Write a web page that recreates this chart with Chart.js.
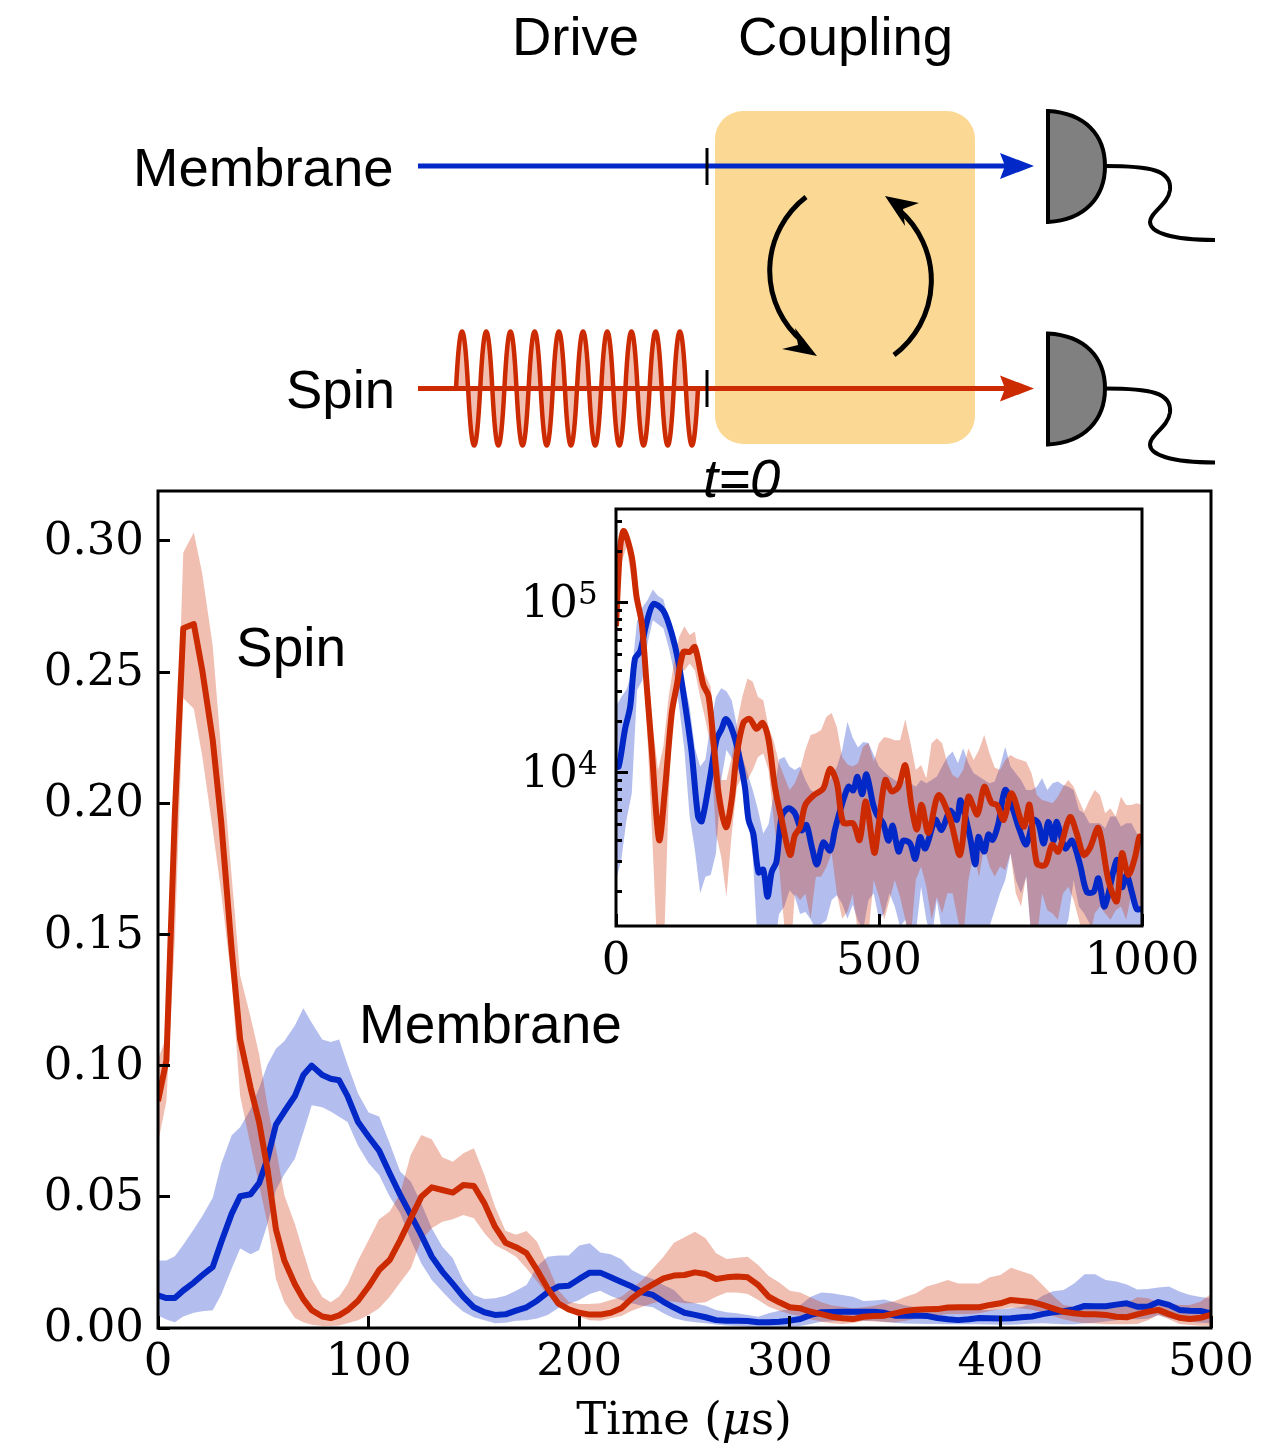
<!DOCTYPE html>
<html lang="en">
<head>
<meta charset="UTF-8">
<title>Spin and membrane ringdown</title>
<script src="https://cdn.jsdelivr.net/npm/chart.js"></script>
<style>
    html, body { margin: 0; padding: 0; background: #fff; }
    #wrap { position: relative; width: 1261px; height: 1453px; overflow: hidden; }
    #wrap canvas, #wrap svg { position: absolute; left: 0; top: 0; }
    svg text.sans { font-family: "Liberation Sans", sans-serif; font-size: 54.5px; fill: #000; }
    svg text.label { font-size: 55px; }
    svg text.serif { font-family: "DejaVu Serif", serif; font-size: 45px; fill: #000; }
</style>
</head>
<body>
<div id="wrap">
    <canvas id="mainChart" width="1261" height="1453"></canvas>
    <canvas id="insetChart" width="1261" height="1453"></canvas>

    <!-- Pulse sequence sketch and text labels -->
    <svg width="1261" height="1453" viewBox="0 0 1261 1453">
        <rect x="715" y="111" width="260" height="333" rx="28" ry="28" fill="#fbd995"/>

        <path d="M456 388.5 q6.05 -114 12.1 0 t12.1 0 t12.1 0 t12.1 0 t12.1 0 t12.1 0 t12.1 0 t12.1 0 t12.1 0 t12.1 0 t12.1 0 t12.1 0 t12.1 0 t12.1 0 t12.1 0 t12.1 0 t12.1 0 t12.1 0 t12.1 0 t12.1 0"
              fill="#f0bfb2" stroke="#cc2a00" stroke-width="4.5"/>

        <line x1="418" y1="166" x2="1006" y2="166" stroke="#0228c8" stroke-width="5"/>
        <path d="M1034 166 L1000 153 L1005 166 L1000 179 Z" fill="#0228c8"/>
        <line x1="418" y1="388.5" x2="1006" y2="388.5" stroke="#cc2a00" stroke-width="5"/>
        <path d="M1034 388.5 L1000 375.5 L1005 388.5 L1000 401.5 Z" fill="#cc2a00"/>

        <line x1="707" y1="148" x2="707" y2="185" stroke="#000" stroke-width="3"/>
        <line x1="707" y1="370" x2="707" y2="407" stroke="#000" stroke-width="3"/>

        <!-- coupling arrows -->
        <path d="M806 197 A93 93 0 0 0 803 342" fill="none" stroke="#000" stroke-width="5"/>
        <path d="M817 356 L795 328 L798 345 L782 349 Z" fill="#000"/>
        <path d="M894 355 A93 93 0 0 0 899 210" fill="none" stroke="#000" stroke-width="5"/>
        <path d="M885 196 L919 203 L903 209 L905 226 Z" fill="#000"/>

        <!-- detectors -->
        <g>
            <path d="M1105 166 C1150 166 1172 170 1170 190 C1168 205 1150 212 1150 222 C1150 232 1170 240 1215 240" fill="none" stroke="#000" stroke-width="4"/>
            <path d="M1048 111 C1085 113 1105 135 1105 166 C1105 197 1085 220 1048 222 Z" fill="#808080" stroke="#000" stroke-width="4"/>
        </g>
        <g transform="translate(0 222.5)">
            <path d="M1105 166 C1150 166 1172 170 1170 190 C1168 205 1150 212 1150 222 C1150 232 1170 240 1215 240" fill="none" stroke="#000" stroke-width="4"/>
            <path d="M1048 111 C1085 113 1105 135 1105 166 C1105 197 1085 220 1048 222 Z" fill="#808080" stroke="#000" stroke-width="4"/>
        </g>

        <text class="sans" x="512" y="55">Drive</text>
        <text class="sans" x="738" y="55">Coupling</text>
        <text class="sans" x="133" y="186">Membrane</text>
        <text class="sans" x="286" y="408">Spin</text>
        <text class="sans" x="703" y="497" font-style="italic">t=0</text>

        <text class="sans label" x="236" y="666">Spin</text>
        <text class="sans label" x="359" y="1043">Membrane</text>
        <text class="serif" x="684" y="1434" text-anchor="middle">Time (<tspan font-style="italic">μ</tspan>s)</text>
    </svg>
</div>

<script>
// main panel, time in microseconds
var mainTimes = [0,4,8,12,17,21,26,30,35,39,44,48,52,56,60,65,69,73,78,82,86,90,95,
    100,105,110,115,120,125,130,135,140,145,150,155,160,165,170,175,180,185,190,195,200,
    205,210,215,220,225,230,235,240,245,250,255,260,265,270,275,280,285,290,295,300,
    305,310,315,320,325,330,335,340,345,350,355,360,365,370,375,380,385,390,395,400,
    405,410,415,420,425,430,435,440,445,450,455,460,465,470,475,480,485,490,495,500];

var spinMean = [.0865,.102,.196,.2667,.2683,.2508,.224,.193,.144,.11,.0914,.0785,.0605,.0376,.0257,.0167,.011,.0068,.0044,.0038,.0048,.0068,.0104,
    .0158,.0221,.0259,.0335,.0418,.05,.0536,.0526,.0516,.0545,.0541,.0475,.0386,.0325,.0308,.0285,.0221,.0151,.0094,.0071,.0058,
    .0051,.0051,.0058,.0075,.0113,.0142,.0166,.0189,.02,.0202,.0212,.0206,.0187,.0193,.0196,.0193,.0164,.0119,.0098,.0079,
    .0075,.0062,.0053,.0043,.0037,.0034,.0043,.0046,.0047,.0056,.0065,.007,.0071,.0072,.0078,.0079,.0079,.0079,.0088,.0094,
    .0107,.0103,.0099,.0088,.0075,.0062,.0056,.0052,.0052,.005,.0043,.0041,.0052,.0062,.0069,.0053,.0039,.0034,.0039,.005];
var spinUpper = [.1024,.111,.196,.2956,.3032,.2876,.2598,.22,.172,.1343,.1183,.1044,.0845,.0685,.0506,.0396,.029,.0187,.0118,.0098,.012,.0167,.0257,
    .0335,.0414,.0444,.0513,.066,.0736,.0719,.0651,.0634,.0666,.0685,.0583,.0463,.0371,.0355,.037,.0329,.024,.0145,.01,.0091,
    .0091,.0094,.0107,.0119,.0151,.0183,.0227,.0272,.0325,.0346,.0367,.0342,.0285,.0263,.0268,.0272,.024,.0198,.0173,.0142,
    .0135,.0116,.0098,.0086,.0081,.0075,.0079,.0085,.0094,.0103,.0119,.0132,.0158,.017,.0183,.017,.017,.017,.0193,.0202,
    .023,.0216,.0203,.0164,.0123,.0088,.0081,.0081,.0084,.0084,.0081,.0094,.0117,.0113,.0098,.0092,.0088,.0088,.01,.013];
var spinLower = [.0705,.0865,.148,.24,.236,.218,.19,.166,.132,.0884,.0695,.0546,.0396,.0187,.0098,.0038,.0022,.0012,.0008,.0008,.001,.0018,.003,
    .005,.0075,.0119,.0173,.0227,.0335,.038,.0405,.0414,.0431,.0418,.0361,.0316,.0295,.0272,.0227,.0177,.0126,.0091,.0062,.0043,
    .003,.0028,.0037,.0046,.0066,.0081,.0094,.0104,.01,.0094,.0094,.0098,.0119,.0135,.0135,.013,.0107,.0081,.0066,.0053,
    .0046,.0033,.0024,.0018,.0015,.0019,.0027,.0025,.0022,.0022,.0028,.0036,.0039,.0048,.0053,.0053,.0053,.0056,.0065,.0071,
    .0078,.0074,.007,.006,.0046,.0033,.0024,.0018,.0017,.0014,.0014,.0014,.0015,.003,.005,.0033,.0015,.0011,.0009,.0008];

var membraneMean = [.0124,.0114,.0114,.0143,.0173,.0201,.0233,.0327,.0436,.0502,.051,.0552,.0645,.0775,.0825,.0884,.0964,.1,.0964,.095,.0944,.0884,.0785,
    .0729,.0676,.059,.0507,.0431,.0355,.0272,.0215,.0168,.0119,.0079,.006,.005,.0052,.0066,.0079,.0104,.0136,.0158,.0161,.0187,
    .0211,.0211,.0193,.0175,.0158,.0136,.0126,.01,.0078,.0058,.005,.0041,.003,.0028,.0028,.0027,.0022,.0022,.0024,.0028,
    .0034,.005,.006,.0061,.0062,.0062,.0062,.0062,.0058,.0047,.0047,.0048,.0046,.0038,.0033,.003,.0033,.0038,.0037,.0036,
    .0037,.0041,.0044,.0053,.006,.0064,.0071,.0084,.0083,.0083,.0089,.0094,.0081,.0081,.0099,.0088,.0069,.0066,.0065,.0056];
var membraneUpper = [.0257,.0257,.0273,.0317,.0376,.0426,.0496,.0625,.0735,.0765,.0835,.0914,.1004,.1064,.1094,.1153,.1219,.1163,.11,.109,.11,.1004,.0894,
    .0821,.0806,.0704,.0596,.0558,.0475,.038,.031,.0266,.0177,.0126,.0111,.0113,.0123,.0142,.0164,.0234,.0272,.0276,.0276,.0314,
    .0323,.0288,.0281,.0262,.0221,.02,.0187,.0164,.0145,.0104,.0094,.0085,.0069,.006,.0056,.005,.0043,.0056,.0066,.0071,
    .0088,.0119,.0135,.0132,.0126,.0119,.0103,.0105,.0109,.0097,.0086,.0079,.0075,.0072,.0071,.0069,.0069,.0069,.0069,.0071,
    .0075,.008,.0094,.0123,.014,.0145,.017,.0205,.0205,.0183,.0177,.0166,.0147,.0149,.0154,.0158,.0139,.0126,.0118,.0113];
var membraneLower = [.0048,.0032,.0022,.0044,.0058,.0064,.0068,.0127,.0227,.0303,.0281,.0297,.0396,.0526,.0586,.0645,.0745,.0849,.0841,.0825,.0805,.0785,.0695,
    .0628,.0583,.0501,.0437,.0335,.0247,.0183,.0139,.0097,.0062,.0041,.003,.0018,.002,.0028,.003,.0036,.005,.0075,.0091,.0107,
    .013,.0142,.0122,.0107,.0094,.0085,.0079,.0056,.0037,.0028,.0022,.0018,.0013,.001,.0008,.0005,.0005,.0005,.0005,.0005,
    .0008,.0015,.0024,.0026,.0028,.0028,.0028,.0028,.0024,.0019,.0017,.0016,.0015,.0015,.0014,.0014,.0014,.0014,.0013,.0012,
    .0012,.0014,.0017,.0018,.0016,.0014,.0014,.0018,.002,.0025,.003,.0034,.0033,.0035,.005,.0038,.0028,.0024,.002,.0018];

var mainXTicks = [0,100,200,300,400,500];
var mainYTicks = [0,0.05,0.10,0.15,0.20,0.25,0.30];

// inset, log axis out to 1000 us
var insetSpinT = [0,8,15,30,39,49,58,68,82,93,106,115,128,140,150,166,176,185,195,209,220,229,242,254,267,279,290,302,315,331,340,350,360,376,394,407,420,432,451,463,475,491,
    499,512,524,537,550,562,572,581,594,613,635,654,670,687,700,714,724,737,752,775,786,800,816,829,841,863,876,889,901,917,936,952,962,974,987,995,1000];
var insetSpinV = [73000,215000,265000,187000,109000,76000,33700,13700,4030,7943,22500,32000,51500,51500,55000,33000,28300,15700,7600,4800,7000,12500,19700,20800,18200,19700,15700,8300,5300,3300,4300,4800,6500,7400,8100,10600,8700,5100,5050,4030,6800,3400,
    4850,9100,7800,8300,11100,6310,4650,6500,4450,7400,5400,3300,7250,5700,8300,6650,6500,5300,7600,4830,6500,2950,2880,3780,3450,5500,4400,3300,3620,4750,2350,1760,3370,2510,3220,4210,4200];

var insetMembraneT = [0,5,17,27,36,46,58,71,90,106,118,131,144,156,163,179,191,201,209,220,233,245,252,261,271,280,288,296,305,315,328,340,353,362,372,382,394,407,416,426,442,451,459,468,476,489,
    496,508,518,526,537,546,559,569,578,588,607,619,635,648,655,673,683,689,700,708,716,727,740,756,766,780,794,803,813,822,832,838,854,867,882,895,908,917,929,952,962,971,981,990,997,1000];
var insetMembraneV = [12000,10900,18000,24600,47000,52000,76000,98500,90000,66000,46000,25700,13100,5550,5200,9500,15700,18200,20800,18200,13100,8300,5300,4400,2600,2700,1870,2620,3000,5550,6200,5800,4600,4950,3700,2900,3900,3500,4600,6000,8300,7900,9500,7500,9800,6500,
    5700,5050,4000,4900,3450,4000,3850,3120,4200,3600,5300,4630,6000,5300,6900,4200,2900,4200,3450,4350,4050,5050,7950,5950,4750,3800,5300,5050,3850,5150,4000,5150,3600,4000,2900,2000,2000,2400,1640,3080,2130,2510,1970,1580,1580,1560];

var insetBandT = [0,10,20,30,40,50,60,70,80,90,100,110,120,130,140,150,160,170,180,190,200,210,220,230,240,250,260,270,280,290,300,310,320,330,340,350,360,370,380,390,400,410,420,430,440,450,460,470,480,490,
    500,510,520,530,540,550,560,570,580,590,600,610,620,630,640,650,660,670,680,690,700,710,720,730,740,750,760,770,780,790,800,810,820,830,840,850,860,870,880,890,900,910,920,930,940,950,960,970,980,990,1000];
var insetMembraneUpper = [24600,28000,31000,39000,78000,94000,104000,120000,110000,105000,80000,63000,48000,34000,24500,14000,10900,12000,19600,28000,31500,30300,26800,18800,12400,9950,7950,6050,4400,5000,7600,12000,12400,10900,10400,10900,9100,7950,7600,7950,8300,9500,10900,13600,20000,16100,14100,15200,15000,12760,
    10900,10180,9520,9100,8700,9100,8700,8310,9100,8700,9100,9520,10900,12480,13400,11400,14000,11400,9950,9520,9100,8700,8900,10900,14290,10900,9950,9100,7940,7940,8310,9300,7940,8700,8900,8500,8310,7940,6060,5790,5060,5060,5060,4730,5540,5540,4840,5060,5060,4420,4220];
var insetMembraneLower = [2340,3080,5300,7600,30800,35000,58000,79000,75000,71000,55000,40000,24500,13700,5550,3520,1960,2450,2510,3370,9100,13700,12200,10900,8900,5550,3220,900,900,900,900,1480,1640,2040,1880,1480,1520,1380,1200,1290,1360,1790,1910,1700,1390,1680,1360,1200,1790,1960,
    1370,1490,1960,1640,1250,1370,950,1140,2140,1370,1040,1790,1140,1040,1040,1040,1040,1040,1040,1040,1250,1250,1560,1960,2350,3370,2350,1960,2450,1040,1040,1040,1140,1140,1140,1140,1370,2350,1640,1490,1310,1040,1040,1040,1040,1040,1040,1040,1040,1040,1040];
var insetSpinUpper = [132000,272000,272000,215000,114000,81000,42000,18600,10400,14300,28000,44000,63000,73000,64800,68000,42000,37700,32200,15700,9100,9100,12400,19600,28000,36000,34400,28000,26800,18600,15300,11400,9500,7950,8700,10400,13700,16700,17100,17900,21400,22500,18600,12400,11200,10900,11400,14300,15000,11660,
    14950,16300,16000,15600,15600,20700,14950,10400,11150,9300,14950,16000,14950,11400,9730,9300,10400,13970,11930,13650,16700,13050,10770,10400,11930,12760,12200,11930,11660,9950,7420,6940,6790,6630,7260,8310,9100,8310,6940,5920,6940,7940,7420,5790,6200,5540,7260,6480,6480,6630,6480];
var insetSpinLower = [60000,170000,215000,135000,90000,53000,15700,3520,700,700,6950,32000,40000,40000,44000,40000,28000,20500,14300,4400,3220,1870,4400,8300,9500,9100,10400,12400,13000,10400,5300,2800,1259,700,1950,1790,1950,1390,2450,2450,2800,3370,1950,1390,1530,1950,1150,1150,1150,2350,
    1870,1370,1790,2350,1870,1370,1040,2350,2820,2140,1370,1870,1490,1960,1960,1370,1040,2350,3370,2450,3690,2820,2450,2820,2690,3370,1960,1640,2510,1040,1040,1960,1560,1490,1370,1960,2140,1790,1370,1040,1040,1490,1640,1490,1370,1560,1640,1370,1960,1790,1490];

var insetXTicks = [0,500,1000];
var insetYMajor = [10000,100000];
var insetYMinor = [2000,3000,4000,5000,6000,7000,8000,9000,20000,30000,40000,50000,60000,70000,80000,90000,200000,300000];

var blue = '#0228c8';
var red = '#cc2a00';
var blueBand = 'rgba(2,40,200,0.3)';
var redBand = 'rgba(204,42,0,0.3)';
var serif = { family: 'DejaVu Serif', size: 45 };
// small line height: the empty first line nudges the y labels down a few px
var serifYMain = { family: 'DejaVu Serif', size: 45, lineHeight: '3px' };
var serifYInset = { family: 'DejaVu Serif', size: 45, lineHeight: '5px' };

function points(xs, ys) {
    return xs.map(function (x, i) { return { x: x, y: ys[i] }; });
}

function line(label, xs, ys, color, order, tension) {
    return { label: label, data: points(xs, ys), borderColor: color, borderWidth: 6, pointRadius: 0, fill: false, tension: tension, order: order, borderJoinStyle: 'round' };
}

function band(label, xs, ys, color, order, fill) {
    return { label: label, data: points(xs, ys), borderWidth: 0, borderColor: 'transparent', backgroundColor: color, pointRadius: 0, fill: fill, tension: 0, order: order };
}

// Box round the plot area
var framePlugin = {
    id: 'frame',
    afterDraw: function (chart) {
        var a = chart.chartArea, ctx = chart.ctx;
        ctx.save();
        ctx.lineWidth = 3;
        ctx.strokeStyle = '#000';
        ctx.strokeRect(a.left, a.top, a.right - a.left, a.bottom - a.top);
        ctx.restore();
    }
};

// Exponents next to the "10" tick labels of the log axis
var exponentPlugin = {
    id: 'exponent',
    afterDraw: function (chart) {
        var ctx = chart.ctx, y = chart.scales.y;
        ctx.save();
        ctx.fillStyle = '#000';
        ctx.font = '31px "DejaVu Serif"';
        ctx.textAlign = 'left';
        ctx.textBaseline = 'alphabetic';
        insetYMajor.forEach(function (v) {
            ctx.fillText(String(Math.round(Math.log10(v))), 578, y.getPixelForValue(v) + 1);
        });
        ctx.restore();
    }
};

function tickGrid(len) {
    return { drawOnChartArea: false, drawTicks: true, tickLength: -len, tickWidth: 3, tickColor: '#000', z: 1 };
}

function xFit(h) {
    return function (s) { s.height = h; s.paddingLeft = 0; s.paddingRight = 0; };
}

new Chart(document.getElementById('mainChart'), {
    type: 'line',
    data: {
        datasets: [
            line('Spin', mainTimes, spinMean, red, 0, 0),
            line('Membrane', mainTimes, membraneMean, blue, 1, 0),
            band('Spin upper', mainTimes, spinUpper, redBand, 2, '+1'),
            band('Spin lower', mainTimes, spinLower, redBand, 2, false),
            band('Membrane upper', mainTimes, membraneUpper, blueBand, 3, '+1'),
            band('Membrane lower', mainTimes, membraneLower, blueBand, 3, false)
        ]
    },
    options: {
        responsive: false,
        animation: false,
        layout: { padding: { top: 491, right: 50, left: 0, bottom: 0 }, autoPadding: false },
        plugins: { legend: { display: false }, tooltip: { enabled: false } },
        scales: {
            x: {
                type: 'linear', min: 0, max: 500,
                grid: tickGrid(12), border: { display: false },
                afterBuildTicks: function (s) { s.ticks = mainXTicks.map(function (v) { return { value: v }; }); },
                afterFit: xFit(125),
                ticks: { font: serif, color: '#000', padding: 20, maxRotation: 0, autoSkip: false, callback: function (v) { return String(v); } }
            },
            y: {
                type: 'linear', min: 0, max: 0.319,
                grid: tickGrid(12), border: { display: false },
                afterBuildTicks: function (s) { s.ticks = mainYTicks.map(function (v) { return { value: v }; }); },
                afterFit: function (s) { s.width = 158; },
                ticks: { font: serifYMain, color: '#000', padding: 26, autoSkip: false, callback: function (v) { return ['', v.toFixed(2)]; } }
            }
        }
    },
    plugins: [framePlugin]
});

new Chart(document.getElementById('insetChart'), {
    type: 'line',
    data: {
        datasets: [
            line('Spin', insetSpinT, insetSpinV, red, 0, 0.3),
            line('Membrane', insetMembraneT, insetMembraneV, blue, 1, 0.3),
            band('Spin upper', insetBandT, insetSpinUpper, redBand, 2, '+1'),
            band('Spin lower', insetBandT, insetSpinLower, redBand, 2, false),
            band('Membrane upper', insetBandT, insetMembraneUpper, blueBand, 3, '+1'),
            band('Membrane lower', insetBandT, insetMembraneLower, blueBand, 3, false)
        ]
    },
    options: {
        responsive: false,
        animation: false,
        layout: { padding: { top: 509, right: 119, left: 0, bottom: 0 }, autoPadding: false },
        plugins: { legend: { display: false }, tooltip: { enabled: false } },
        scales: {
            x: {
                type: 'linear', min: 0, max: 1000,
                grid: tickGrid(12), border: { display: false },
                afterBuildTicks: function (s) { s.ticks = insetXTicks.map(function (v) { return { value: v }; }); },
                afterFit: xFit(527),
                ticks: { font: serif, color: '#000', padding: 21, maxRotation: 0, autoSkip: false, callback: function (v) { return String(v); } }
            },
            y: {
                type: 'logarithmic', min: 1259, max: 357000,
                grid: tickGrid(12), border: { display: false },
                afterBuildTicks: function (s) { s.ticks = insetYMajor.map(function (v) { return { value: v }; }); },
                afterFit: function (s) { s.width = 616; },
                ticks: { font: serifYInset, color: '#000', padding: 50, autoSkip: false, callback: function () { return ['', '10']; } }
            },
            yMinor: {
                type: 'logarithmic', position: 'left', weight: -1, min: 1259, max: 357000,
                grid: tickGrid(6), border: { display: false },
                afterBuildTicks: function (s) { s.ticks = insetYMinor.map(function (v) { return { value: v }; }); },
                afterFit: function (s) { s.width = 0; },
                ticks: { display: false, autoSkip: false }
            }
        }
    },
    plugins: [framePlugin, exponentPlugin]
});
</script>
</body>
</html>
